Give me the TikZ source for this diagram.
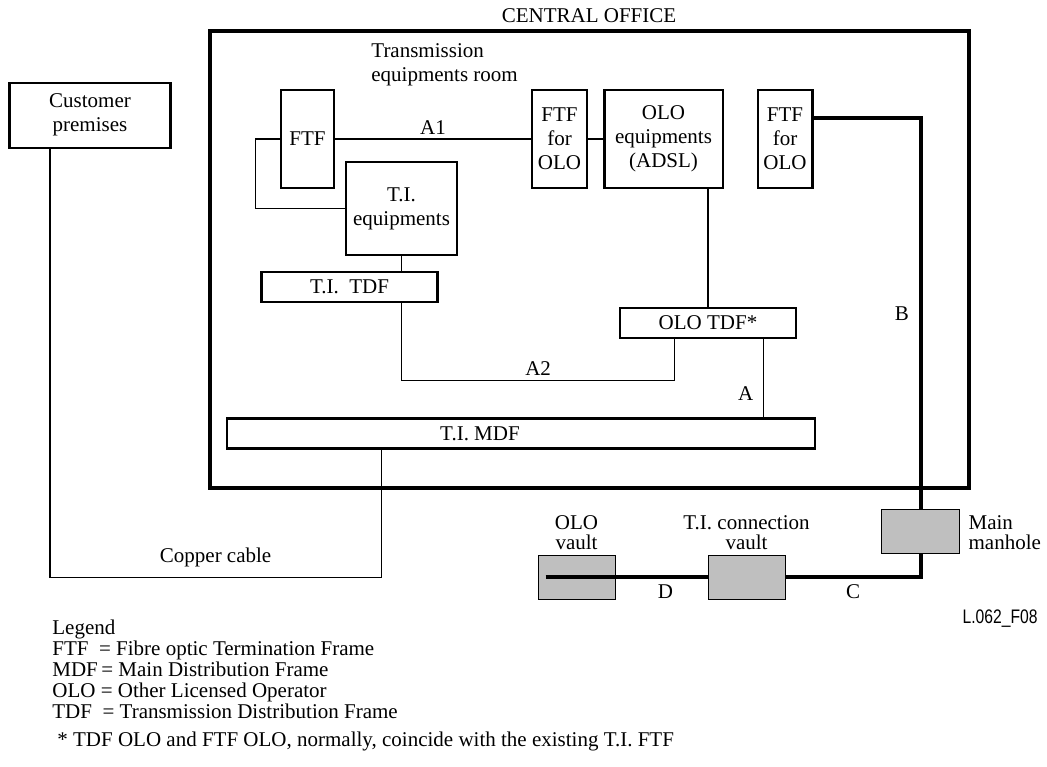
\documentclass[tikz,border=0pt]{standalone}
\usepackage{fontspec}
\setmainfont{Liberation Serif}
\newfontfamily\figsans{Liberation Sans}
\usetikzlibrary{positioning,calc}
\tikzset{
  box/.style={draw, line width=1.2pt, fill=white, align=center, inner sep=1pt, font=\fontsize{10.5}{12}\selectfont},
  vault/.style={draw, line width=0.5pt, fill=gray!50, minimum width=38.5pt, minimum height=22pt, inner sep=0pt},
  frame/.style={draw, line width=2.4pt, inner sep=0pt},
  wire/.style={line width=0.55pt},
  cable/.style={line width=1.8pt},
  lbl/.style={inner sep=2pt, align=center, font=\fontsize{10.5}{12}\selectfont},
  vlbl/.style={lbl, font=\fontsize{10.5}{10}\selectfont},
}

\begin{document}
\begin{tikzpicture}[x=0.5pt, y=-0.5pt]
    \useasboundingbox (0,0) rectangle (1047,766);

    % central office
    \node[frame, minimum width=379.5pt, minimum height=228.5pt] (CO) at (589.5,259.5) {};
    \node[lbl] (COt) at (589,16) {CENTRAL OFFICE};
    \node[lbl, inner sep=0pt, anchor=north west, align=left] (room) at (371,43.5) {Transmission\\equipments room};

    % frames and equipments
    \node[box, minimum width=80.5pt, minimum height=32.5pt] (CP) at (90,115.2) {Customer\\premises};
    \node[box, minimum width=26.5pt, minimum height=49pt] (FTF) at (307.5,139) {FTF};
    \node[box, minimum width=55.5pt, minimum height=46.5pt] (TIE) at (401.5,208.5) {T.I.\\equipments};
    \node[box, minimum width=27.5pt, minimum height=49pt] (FO1) at (559.5,139) {FTF\\for\\OLO};
    \node[box, minimum width=59.2pt, minimum height=49pt] (OEQ) at (663.5,139) {OLO\\equipments\\(ADSL)};
    \node[box, minimum width=27.3pt, minimum height=49pt] (FO2) at (785,139) {FTF\\for\\OLO};
    \node[box, minimum width=88pt, minimum height=15pt] (TDF1) at (349.5,286.7) {T.I.\ \ TDF};
    \node[box, minimum width=88pt, minimum height=14.8pt] (TDF2) at (708,323) {OLO TDF*};
    \node[box, minimum width=294pt, minimum height=15pt,
          label={[lbl, inner sep=0pt, xshift=-20.5pt]center:T.I. MDF}] (MDF) at (521,433.3) {};

    % vaults
    \node[vault] (OV) at (576.5,577) {};
    \node[vault] (TV) at (746.5,577) {};
    \node[vault, minimum width=39pt] (MH) at (920.7,531) {};
    \node[vlbl, above=0pt of OV] (OVt) {OLO\\vault};
    \node[vlbl, above=0pt of TV] (TVt) {T.I. connection\\vault};
    \node[vlbl, right=2pt of MH, align=left, yshift=-1pt] (MHt) {Main\\manhole};

    % copper and patch wiring
    \draw[wire] (FTF.west) -- ++(-24.3,0) |- (TIE.west);
    \draw[wire] (FTF.east) -- node[lbl, above] (A1) {A1} (FO1.west);
    \draw[wire] (FO1.east) -- (OEQ.west);
    \draw[wire] (TIE.south) -- (TIE.south |- TDF1.north);
    \draw[wire] (TDF2.north) -- (TDF2.north |- OEQ.south);
    \draw[wire] (TIE.south |- TDF1.south) -- ++(0,77.3) -| node[lbl, above, pos=0.25] (A2) {A2} ($(TDF2.south)+(-33.3,0)$);
    \coordinate (At) at ($(TDF2.south)+(55.8,0)$);
    \draw[wire] (At) -- node[lbl, left=3pt, pos=0.7] (A) {A} (At |- MDF.north);
    \coordinate (Cu) at ($(CP.south west)+(41.7,0)$);
    \coordinate (Cm) at ($(MDF.south west)+(155.4,0)$);
    \draw[wire] (Cu) |- node[lbl, above=3pt, pos=0.75] (cu) {Copper cable} ($(Cm)+(0,128.4)$) -- (Cm);

    % fibre cable
    \coordinate (Bs) at ($(FO2.north east)+(0,29.3)$);
    \draw[cable] (Bs) -| node[lbl, left=3pt, pos=0.75] (B) {B} (MH.north);
    \draw[cable] (MH.south) |- node[lbl, below=1pt, pos=0.75] (C) {C} (TV.east);
    \draw[cable] ($(OV.west)+(8,0)$) -- node[lbl, below=1pt, pos=0.74] (D) {D} (TV.west);

    % legend
    \node[lbl, inner sep=0pt, anchor=north west, align=left, font=\fontsize{10.5}{10.5}\selectfont] (leg) at (52,620)
        {Legend\\FTF\ \ = Fibre optic Termination Frame\\MDF\,= Main Distribution Frame\\OLO = Other Licensed Operator\\TDF\ \ = Transmission Distribution Frame};
    \node[lbl, inner sep=0pt, anchor=base west] (note) at (57,746) {* TDF OLO and FTF OLO, normally, coincide with the existing T.I. FTF};
    \node[inner sep=0pt, anchor=base east, font=\figsans\fontsize{9.8}{10}\selectfont] (fid) at (1038,623) {\scalebox{0.8}[1]{L.062\_F08}};
\end{tikzpicture}
\end{document}
